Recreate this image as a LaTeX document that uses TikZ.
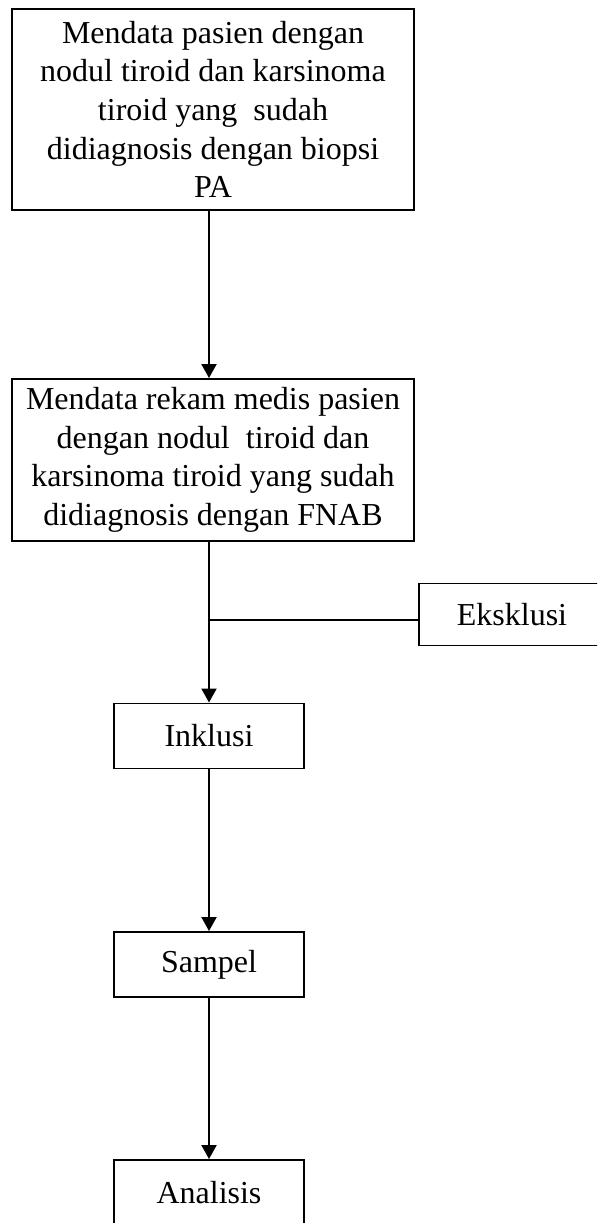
\documentclass[tikz,border=0pt]{standalone}
\usepackage{fontspec}
\setmainfont{Liberation Serif}
\usetikzlibrary{positioning,arrows.meta}

\begin{document}
\begin{tikzpicture}[
    font=\fontsize{18.2}{22}\selectfont,
    line width=1.1pt,
    flowbox/.style={draw, rectangle, align=center, inner sep=0pt},
    smallbox/.style={flowbox, minimum width=3.8cm, minimum height=1.3cm},
    tip/.style={-{Triangle[width=0.3cm,length=0.28cm]}}
  ]
%
  \useasboundingbox (0,0) rectangle (11.94,-24.46);
  \clip (0,0) rectangle (11.94,-24.46);
%
  \coordinate (spine) at (4.18,0);
%
  \node[flowbox, minimum width=8.04cm, minimum height=4.02cm] (pa) at (4.26,-2.19)
    {Mendata pasien dengan\\ nodul tiroid dan karsinoma\\ tiroid yang\ \ sudah\\
     didiagnosis dengan biopsi\\ PA};
  \node[flowbox, minimum width=8.04cm, minimum height=3.24cm] (fnab) at (4.26,-9.2)
    {Mendata rekam medis pasien\\ dengan nodul\ \ tiroid dan\\
     karsinoma tiroid yang sudah\\ didiagnosis dengan FNAB};
%
  \node[smallbox, minimum width=3.72cm, minimum height=1.24cm] (eks) at (10.24,-12.29) {Eksklusi};
  \node[smallbox] (ink) at (4.18,-14.72) {Inklusi};
  \node[smallbox] (smp) at (4.18,-19.29) {Sampel};
  \node[smallbox] (ana) at (4.18,-23.85) {Analisis};
%
  \coordinate (split) at (4.18,-12.4);
%
  \draw[tip] (pa.south -| spine) -- (fnab.north -| spine);
  \draw[tip] (fnab.south -| spine) -- (ink.north);
  \draw (split) -- (split -| eks.west);
  \draw[tip] (ink.south) -- (smp.north);
  \draw[tip] (smp.south) -- (ana.north);
\end{tikzpicture}
\end{document}
